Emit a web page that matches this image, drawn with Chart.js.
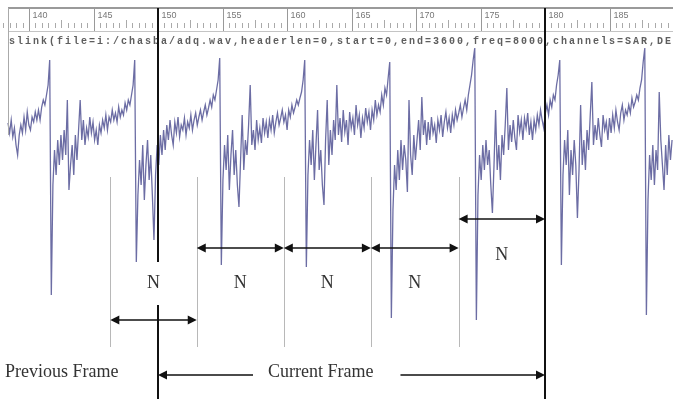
<!DOCTYPE html>
<html>
<head>
<meta charset="utf-8">
<script src="https://cdn.jsdelivr.net/npm/chart.js@4.4.1/dist/chart.umd.min.js"></script>
<style>
html,body{margin:0;padding:0;background:#fff;}
canvas{display:block;}
</style>
</head>
<body>
<canvas id="chart" width="673" height="399"></canvas>
<script>
// signal samples (ms axis), amplitude
const startMs=138.37;
const stepMs=0.12434;
const wave=[
2,-8,5,-12,-3,-20,-30,-10,0,-8,8,-5,13,0,-5,8,3,13,5,15,5,18,25,20,30,40,
// pulse 1
65,-170,-60,-25,-50,-15,-40,-10,-35,-5,-30,25,-65,-40,-20,-50,-10,-35,-5,25,
-15,5,-20,-3,-12,8,-8,3,-15,-5,-20,0,-8,5,-3,10,-5,8,3,15,
5,12,3,18,8,15,10,22,15,25,20,30,40,
// pulse 2
65,-137,-70,-35,-60,-20,-75,-40,-15,-55,-30,-70,-115,-50,-20,-40,-10,-30,-5,-25,
0,-15,5,-10,-20,3,-8,8,-12,0,-5,7,-10,3,-3,10,-5,5,12,0,
8,15,5,13,20,10,17,25,18,30,25,35,45,
// pulse 3
67,-140,-55,-20,-45,-10,-65,-30,-5,-50,-25,-60,-82,-35,10,-45,-15,-30,0,40,
-20,-5,-25,5,-15,-3,-18,7,-8,3,-13,5,-5,10,-8,3,12,0,7,15,
3,10,-5,15,8,20,12,18,25,20,27,33,45,
// pulse 4
65,-142,-50,-15,-40,-5,-55,-20,15,-45,-25,-60,-80,-15,25,-40,-5,-30,5,-15,
40,-10,7,-17,15,-7,5,-20,13,-3,7,-10,20,0,10,-13,7,-3,17,3,
13,-5,15,5,25,10,20,13,30,20,37,30,47,
// pulse 5
63,-193,-85,-40,-65,-25,-55,-15,-45,-20,-35,-67,25,-30,-50,-10,-35,-15,5,-25,
28,-10,5,-20,3,-15,8,-8,0,-18,5,-5,10,-12,3,13,-3,7,-8,10,
0,15,5,12,20,8,17,25,15,30,40,50,65,
// pulse 6
77,-195,-70,-30,-55,-20,-45,-15,-40,-25,-60,-88,-40,15,-45,-20,-55,-10,-30,0,
37,-25,0,-17,5,-13,-25,10,-7,5,-15,7,-3,12,-10,3,-15,5,-5,10,
0,15,5,-3,12,20,10,25,18,30,25,40,50,
// pulse 7
65,-140,-50,-15,-40,-5,-70,-25,-50,-15,-40,-93,-45,20,-40,-15,-45,-5,-25,10,
43,-20,0,-15,7,-10,-22,10,-5,3,-15,7,-8,10,-3,15,3,-5,12,20,
5,15,10,20,12,27,18,23,30,25,37,45,63,
// pulse 8
77,-190,-75,-30,-55,-20,-60,-25,-45,33,-15,-40,-65,-20,-50,-10,-35,-15
];

// ruler labels and frame marks (ms)
const rulerTicks=[140,145,150,155,160,165,170,175,180,185];
const frameEdges=[150,180];
const nEdges=[146.3,153.0,159.75,166.5,173.3,180];
const cmdText="slink(file=i:/chasba/adq.wav,headerlen=0,start=0,end=3600,freq=8000,channels=SAR,DE";
const nLabel="N";
const prevLabel="Previous Frame";
const curLabel="Current Frame";

const points=wave.map((v,i)=>({x:startMs+i*stepMs,y:v}));

function arrowHead(ctx,x,y,dir){
ctx.beginPath();
ctx.moveTo(x,y);
ctx.lineTo(x-dir*9,y-4.5);
ctx.lineTo(x-dir*9,y+4.5);
ctx.closePath();
ctx.fill();
}

function arrow(ctx,x1,x2,y){
ctx.beginPath();
ctx.moveTo(x1+4,y);ctx.lineTo(x2-4,y);
ctx.stroke();
arrowHead(ctx,x1,y,-1);
arrowHead(ctx,x2,y,1);
}

function vline(ctx,x,y1,y2){
ctx.beginPath();ctx.moveTo(x,y1);ctx.lineTo(x,y2);ctx.stroke();
}

const overlay={
id:"overlay",
afterDatasetsDraw(c){
const ctx=c.ctx;
const px=v=>c.scales.x.getPixelForValue(v);
ctx.save();

// ruler
ctx.strokeStyle="#9a9a9a";ctx.lineWidth=2;
ctx.beginPath();ctx.moveTo(8,8);ctx.lineTo(673,8);ctx.stroke();
ctx.lineWidth=1;ctx.strokeStyle="#c4c4c4";
ctx.beginPath();ctx.moveTo(8,31.5);ctx.lineTo(673,31.5);ctx.stroke();
ctx.strokeStyle="#aaa";
vline(ctx,8.5,8,135);
for(let v=138;v<=190;v+=0.5){
const x=Math.round(px(v))+0.5;
const big=(v%2.5===0);
vline(ctx,x,big?20:23,28);
}
ctx.strokeStyle="#999";
ctx.fillStyle="#777";
ctx.font="9px 'Liberation Sans'";
ctx.textBaseline="alphabetic";
rulerTicks.forEach(v=>{
const x=Math.round(px(v))+0.5;
vline(ctx,x,8,31);
ctx.fillText(String(v),x+3,18);
});

// command text
ctx.fillStyle="#5e5e5e";
ctx.font="bold 10px 'Liberation Mono'";
for(let i=0;i<cmdText.length;i++){
ctx.fillText(cmdText[i],8+i*8+1,44);
}

// grey boundaries of the N blocks
ctx.strokeStyle="#b8b8b8";ctx.lineWidth=1;
nEdges.slice(0,5).forEach(v=>vline(ctx,Math.round(px(v))+0.5,177,347));

// frame edges
ctx.strokeStyle="#111";ctx.lineWidth=2;
const f0=Math.round(px(frameEdges[0])),f1=Math.round(px(frameEdges[1]));
vline(ctx,f0,8,262);vline(ctx,f0,305,399);
vline(ctx,f1,8,399);

// N arrows
ctx.strokeStyle="#111";ctx.lineWidth=1.5;
const rows=[320,248,248,248,219];
const labelRows=[283,283,283,283,255];
ctx.font="18px 'Liberation Serif'";
ctx.textAlign="center";ctx.textBaseline="middle";
for(let k=0;k<5;k++){
const a=px(nEdges[k]),b=px(nEdges[k+1]);
ctx.fillStyle="#111";
arrow(ctx,a,b,rows[k]);
ctx.fillStyle="#333";
ctx.fillText(nLabel,(a+b)/2,labelRows[k]);
}

// frame labels
ctx.fillStyle="#333";
ctx.textAlign="left";
ctx.fillText(prevLabel,5,372);
const tx=268,tw=ctx.measureText(curLabel).width;
ctx.fillText(curLabel,tx,372);
ctx.fillStyle="#111";
ctx.beginPath();
ctx.moveTo(f0+4,375);ctx.lineTo(tx-15,375);
ctx.moveTo(tx+tw+27,375);ctx.lineTo(f1-4,375);
ctx.stroke();
arrowHead(ctx,f0,375,-1);
arrowHead(ctx,f1,375,1);

ctx.restore();
}
};

new Chart(document.getElementById("chart"),{
type:"line",
data:{datasets:[{
data:points,
borderColor:"rgba(66,68,138,0.78)",
borderWidth:1.3,
pointRadius:0,
tension:0,
fill:false
}]},
options:{
responsive:false,
animation:false,
devicePixelRatio:1,
layout:{padding:0},
plugins:{legend:{display:false},tooltip:{enabled:false}},
scales:{
x:{type:"linear",min:137.75,max:189.92,display:false},
y:{min:-274,max:125,display:false}
}
},
plugins:[overlay]
});
</script>
</body>
</html>
